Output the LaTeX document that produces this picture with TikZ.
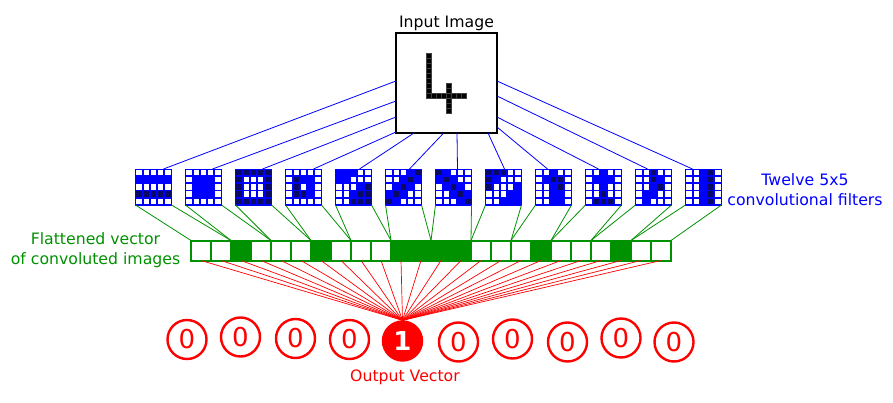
\documentclass[tikz,border=0pt]{standalone}
\usepackage{fontspec}
\setmainfont{DejaVu Sans}
\usetikzlibrary{calc}
\definecolor{fblue}{RGB}{0,0,255}
\definecolor{fdark}{RGB}{10,10,100}
\definecolor{fgreen}{RGB}{0,145,0}
\definecolor{fred}{RGB}{255,0,0}
\colorlet{cW}{white}
\colorlet{cB}{fblue}
\colorlet{cD}{fdark}
\colorlet{vW}{white}
\colorlet{vG}{fgreen}
\begin{document}
\begin{tikzpicture}[x=1pt,y=-1pt,
  txt/.style={font=\fontsize{15.7}{20}\selectfont, align=center, inner sep=0pt},
  filt/.style={draw=fblue, fill=fblue, line width=0.8pt, minimum size=36pt, inner sep=0pt, outer sep=0pt},
  imgbox/.style={draw=black, fill=white, line width=2pt, minimum width=101pt, minimum height=100pt, inner sep=0pt, outer sep=0pt},
  vecbox/.style={fill=fgreen, minimum width=480pt, minimum height=20pt, inner sep=0pt, outer sep=0pt},
  bline/.style={fblue, line width=0.8pt},
  gline/.style={fgreen, line width=0.8pt},
  rline/.style={fred, line width=0.7pt},
  pix/.style={fill=black, draw=black!75, line width=0.3pt},
  ocirc/.style={circle, draw=fred, line width=2.4pt, minimum size=39pt, inner sep=0pt, text=fred, font=\fontsize{26}{26}\selectfont},
  onecirc/.style={ocirc, fill=fred, text=white, font=\fontsize{26}{26}\selectfont\bfseries},
]
\useasboundingbox (0,0) rectangle (893,403);

% input image
\node[imgbox] (img) at (446.5,83) {};
\foreach \c/\r in {6/4,6/5,6/6,6/7,6/8,6/9,6/10,6/11,6/12,
                   7/12,8/12,9/12,10/12,11/12,12/12,13/12,
                   10/10,10/11,10/13,10/14,10/15}
  \filldraw[pix] ($(img.north west)+(5*\c,5*\r)$) rectangle ++(5,5);
\node[txt] (title) at (446.5,23) {Input Image};

% filters
\foreach \i in {1,...,12}
  \node[filt] (f\i) at (153.5+50*\i-50,187) {};
\foreach \i/\pat in {
 1/{W,W,W,W,W,B,B,B,B,B,W,W,W,W,W,D,D,D,D,D,W,W,W,W,W},
 2/{W,W,W,W,W,W,B,B,B,W,W,B,B,B,W,W,B,B,B,W,W,W,W,W,W},
 3/{D,D,D,D,D,D,W,W,W,D,D,W,W,W,D,D,W,W,W,D,D,D,D,D,D},
 4/{W,W,W,W,W,W,D,B,B,W,W,D,W,B,W,W,D,D,B,W,W,W,W,W,W},
 5/{B,B,B,W,W,B,B,W,W,W,W,W,W,B,D,W,W,B,D,D,W,W,D,D,D},
 6/{W,W,W,B,D,W,W,B,D,B,W,B,D,B,W,B,D,B,W,W,D,B,W,W,W},
 7/{D,B,W,W,W,B,D,B,W,W,W,B,D,B,W,W,W,B,D,B,W,W,W,B,D},
 8/{D,D,D,W,W,D,B,W,W,W,D,W,W,W,B,W,W,W,B,B,W,W,B,B,B},
 9/{W,W,B,W,W,W,B,D,D,W,W,W,B,D,W,W,W,B,B,W,W,W,B,B,W},
 10/{W,W,B,W,W,W,B,B,B,W,W,W,B,W,W,W,W,D,W,W,W,D,D,D,W},
 11/{W,W,D,W,W,W,W,D,B,W,W,W,B,D,W,W,B,B,W,W,W,B,W,W,W},
 12/{W,W,B,D,W,W,W,B,D,W,W,W,B,D,W,W,W,B,D,W,W,W,B,D,W}}
{
  \foreach \t [count=\k from 0] in \pat {
    \pgfmathtruncatemacro\cc{mod(\k,5)}
    \pgfmathtruncatemacro\rr{div(\k,5)}
    \fill[c\t] ($(f\i.north west)+(\cc*7.2+0.9,\rr*7.2+0.9)$) rectangle ++(5.4,5.4);
  }
}
\node[txt, text=fblue] (flab) at (805,190) {Twelve 5x5\\convolutional filters};

% blue connectors image -> filters
\foreach \i/\bx/\by/\dx in {1/0/48/28, 2/0/68/27, 3/0/84/27, 4/0/99/28,
   5/18/100/24, 6/47.7/100/24, 7/61/100/22, 8/92/100/19,
   9/101/94/12, 10/101/84/13, 11/101/63/12, 12/101/48/7}
  \draw[bline] ($(img.north west)+(\bx,\by)$) -- ($(f\i.north west)+(\dx,0)$);

% flattened vector
\node[vecbox] (vec) at (431,250.5) {};
\foreach \t [count=\k from 0] in {W,W,G,W,W,W,G,W,W,W,G,G,G,G,W,W,W,G,W,W,W,G,W,W}
  \fill[v\t] ($(vec.north west)+(\k*20+1,1)$) rectangle ++(18,18);
\draw[fgreen, line width=2pt] (vec.north west) rectangle (vec.south east);
\node[txt, text=fgreen] (vlab) at (95.5,250) {Flattened vector\\of convoluted images};

% green connectors filters -> vector
\foreach \i in {1,...,12} {
  \draw[gline] (f\i.south west) -- ($(vec.north west)+(40*\i-40,0)$);
  \draw[gline] (f\i.south east) -- ($(vec.north west)+(40*\i,0)$);
}

% output vector
\foreach \k/\x/\y in {1/187/339.5, 2/240.5/337, 3/295.5/338.5, 4/349.5/339.5,
   6/458.5/342, 7/512.5/339, 8/567.5/342, 9/621/338, 10/674/342}
  \node[ocirc] (o\k) at (\x,\y) {0};
\node[onecirc] (o5) at (402.5,341) {1};
\foreach \k in {1,...,24}
  \draw[rline] ($(vec.south west)+(20*\k-10,0)$) -- (o5.north);
\node[txt, text=fred] (olab) at (405,377) {Output Vector};
\end{tikzpicture}
\end{document}
